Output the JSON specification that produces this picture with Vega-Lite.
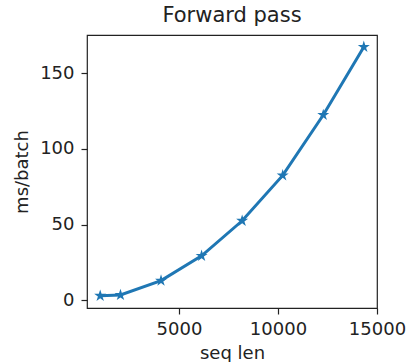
{
  "$schema": "https://vega.github.io/schema/vega-lite/v6.json",
  "width": 290,
  "height": 273,
  "autosize": {"type": "none"},
  "padding": {"left": 87, "top": 35, "right": 32, "bottom": 54},
  "config": {
    "font": "DejaVu Sans",
    "view": {"stroke": "#222222", "strokeWidth": 1.2},
    "axis": {
      "grid": false,
      "domain": false,
      "tickColor": "#222222",
      "tickSize": 6,
      "tickWidth": 1.2,
      "labelColor": "#222222",
      "titleColor": "#222222",
      "labelFontSize": 18,
      "titleFontSize": 18,
      "titleFontWeight": "normal"
    }
  },
  "title": {"text": "Forward pass", "fontSize": 21, "fontWeight": "normal", "color": "#222222", "offset": 9, "font": "DejaVu Sans"},
  "data": {
    "values": [
      {"seq_len": 1024, "ms": 2.9},
      {"seq_len": 2048, "ms": 3.4},
      {"seq_len": 4096, "ms": 12.9},
      {"seq_len": 6144, "ms": 29.3},
      {"seq_len": 8192, "ms": 52.5},
      {"seq_len": 10240, "ms": 82.5},
      {"seq_len": 12288, "ms": 122.5},
      {"seq_len": 14336, "ms": 167.5}
    ]
  },
  "encoding": {
    "x": {
      "field": "seq_len",
      "type": "quantitative",
      "scale": {"domain": [358, 15002], "nice": false, "zero": false},
      "axis": {"values": [5000, 10000, 15000], "format": "d", "title": "seq len", "labelPadding": 6, "titlePadding": 6, "labelFlush": false}
    },
    "y": {
      "field": "ms",
      "type": "quantitative",
      "scale": {"domain": [-5.2, 175.4], "nice": false, "zero": false},
      "axis": {"values": [0, 50, 100, 150], "format": "d", "title": "ms/batch", "labelPadding": 7, "titlePadding": 8, "labelFlush": false}
    }
  },
  "layer": [
    {"mark": {"type": "line", "color": "#1f77b4", "strokeWidth": 3}},
    {"mark": {"type": "point", "filled": true, "color": "#1f77b4", "opacity": 1, "size": 160, "shape": "M0,-1L0.22,-0.31L0.95,-0.31L0.36,0.12L0.59,0.81L0,0.38L-0.59,0.81L-0.36,0.12L-0.95,-0.31L-0.22,-0.31Z"}}
  ]
}
